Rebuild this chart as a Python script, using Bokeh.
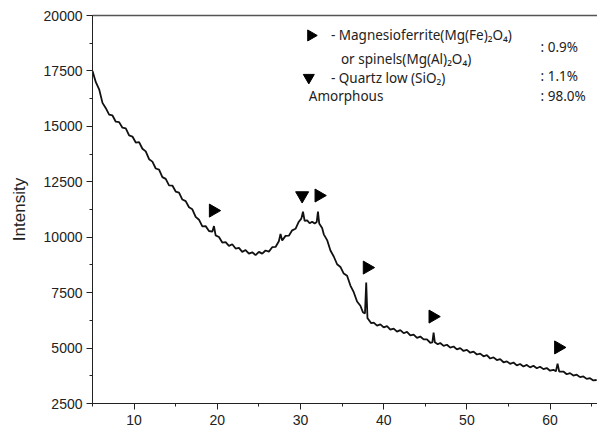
import math
from bokeh.plotting import figure
from bokeh.models import LinearAxis, SingleIntervalTicker, FixedTicker, Range1d
from bokeh.embed import file_html
from bokeh.resources import INLINE
from bokeh.core.properties import value

# ---- data ----
two_theta = [5.0, 5.4, 5.8, 6.2, 6.6, 7.0, 7.4, 7.8, 8.2, 8.6, 9.0, 9.4, 9.8, 10.2, 10.6,
             11.0, 11.4, 11.8, 12.2, 12.6, 13.0, 13.4, 13.8, 14.2, 14.6, 15.0, 15.4, 15.8,
             16.2, 16.6, 17.0, 17.4, 17.8, 18.2, 18.6, 19.0, 19.4, 19.6, 19.8, 20.2, 20.6,
             21.0, 21.4, 21.8, 22.2, 22.6, 23.0, 23.4, 23.8, 24.2, 24.6, 25.0, 25.4, 25.8,
             26.2, 26.6, 27.0, 27.4, 27.6, 27.8, 28.2, 28.6, 29.0, 29.4, 29.8, 30.1, 30.3,
             30.5, 30.8, 31.1, 31.4, 31.7, 31.95, 32.1, 32.25, 32.6, 32.8, 33.2, 33.6, 34.0,
             34.4, 34.8, 35.2, 35.6, 36.0, 36.4, 36.8, 37.2, 37.5, 37.75, 37.9, 38.05, 38.2,
             38.5, 38.8, 39.2, 39.6, 40.0, 40.4, 40.8, 41.2, 41.6, 42.0, 42.4, 42.8, 43.2,
             43.6, 44.0, 44.4, 44.8, 45.2, 45.6, 45.85, 46.0, 46.15, 46.5, 46.8, 47.2, 47.6,
             48.0, 48.4, 48.8, 49.2, 49.6, 50.0, 50.4, 50.8, 51.2, 51.6, 52.0, 52.4, 52.8,
             53.2, 53.6, 54.0, 54.4, 54.8, 55.2, 55.6, 56.0, 56.4, 56.8, 57.2, 57.6, 58.0,
             58.4, 58.8, 59.2, 59.6, 60.0, 60.4, 60.7, 60.9, 61.1, 61.6, 62.0, 62.4, 62.8,
             63.2, 63.6, 64.0, 64.4, 64.8, 65.2, 65.6]
intensity = [17500, 16990, 16670, 16060, 15820, 15530, 15490, 15210, 15190, 14940, 14910,
             14590, 14540, 14270, 14290, 13990, 13870, 13520, 13410, 13100, 13050, 12710,
             12630, 12340, 12330, 12060, 12010, 11700, 11630, 11350, 11260, 10920, 10790,
             10490, 10500, 10280, 10250, 10500, 10080, 10010, 9760, 9780, 9610, 9680, 9490,
             9520, 9340, 9420, 9260, 9320, 9190, 9340, 9260, 9400, 9350, 9550, 9560, 9820,
             10150, 9850, 10060, 10070, 10310, 10380, 10700, 10840, 11150, 10740, 10760,
             10630, 10700, 10620, 10690, 11150, 10620, 10420, 10130, 9870, 9400, 9130, 8780,
             8660, 8360, 8260, 7820, 7520, 7100, 6910, 6620, 6560, 7960, 6350, 6280, 6120,
             6150, 6010, 6070, 5930, 5990, 5830, 5880, 5740, 5810, 5670, 5730, 5570, 5610,
             5460, 5520, 5390, 5390, 5240, 5260, 5700, 5260, 5170, 5230, 5100, 5150, 5020,
             5070, 4940, 5000, 4870, 4920, 4790, 4840, 4710, 4750, 4630, 4680, 4530, 4580,
             4460, 4500, 4360, 4400, 4290, 4350, 4220, 4280, 4170, 4240, 4130, 4200, 4090,
             4160, 4050, 4100, 3980, 4020, 3950, 4300, 3940, 3940, 3820, 3870, 3760, 3800,
             3690, 3720, 3610, 3640, 3540, 3560]

mag_x = [19.5, 32.2, 38.0, 45.9, 61.0]          # Magnesioferrite / spinel markers
mag_y = [11200, 11880, 8630, 6420, 5030]
qtz_x = [30.2]                                  # Quartz low marker
qtz_y = [11880]

y_ticks_interval = 2500
x_ticks_interval = 10

legend_left = ["- Magnesioferrite(Mg(Fe)\u2082O\u2084)", "or spinels(Mg(Al)\u2082O\u2084)",
               "- Quartz low (SiO\u2082)", "Amorphous"]
legend_left_x = [33.66, 34.86, 33.66, 31.0]
legend_left_y = [19100, 18060, 17200, 16390]
legend_right = [": 0.9%", ": 1.1%", ": 98.0%"]
legend_right_x = [58.86, 58.86, 58.86]
legend_right_y = [18560, 17290, 16390]

p = figure(width=597, height=430, output_backend="svg", toolbar_location=None,
           x_range=Range1d(5, 65.7), y_range=Range1d(2500, 20000),
           min_border_left=92, min_border_right=0, min_border_top=15, min_border_bottom=27)
p.background_fill_color = "white"
p.border_fill_color = "white"
p.outline_line_color = None
p.xgrid.visible = False
p.ygrid.visible = False

p.line(two_theta, intensity, line_color="#111111", line_width=1.8)

p.scatter(mag_x, mag_y, marker="triangle", angle=-math.pi / 2, size=13,
          fill_color="black", line_color="black")
p.scatter(qtz_x, qtz_y, marker="inverted_triangle", size=13,
          fill_color="black", line_color="black")

# legend markers
p.scatter([31.25], [19100], marker="triangle", angle=-math.pi / 2, size=11,
          fill_color="black", line_color="black")
p.scatter([31.0], [17200], marker="inverted_triangle", size=11,
          fill_color="black", line_color="black")

p.text(legend_left_x, legend_left_y, text=legend_left, text_font=value("Noto Sans"),
       text_font_size="13.5px", text_baseline="middle", text_align="left", text_color="#222222")
p.text(legend_right_x, legend_right_y, text=legend_right, text_font=value("Noto Sans"),
       text_font_size="13.5px", text_baseline="middle", text_align="left", text_color="#222222")

for ax in (p.xaxis, p.yaxis):
    ax.axis_line_color = "#222222"
    ax.major_tick_line_color = "#222222"
    ax.minor_tick_line_color = "#222222"
    ax.major_tick_out = 6
    ax.major_tick_in = 0
    ax.minor_tick_out = 3
    ax.minor_tick_in = 0
    ax.major_label_text_font = "Liberation Sans"
    ax.major_label_text_font_size = "14px"
    ax.major_label_text_color = "#222222"

p.xaxis.ticker = SingleIntervalTicker(interval=x_ticks_interval, num_minor_ticks=2)
p.yaxis.ticker = SingleIntervalTicker(interval=y_ticks_interval, num_minor_ticks=2)
p.yaxis.major_label_standoff = 4
p.yaxis.axis_label = "Intensity"
p.yaxis.axis_label_text_font = "Liberation Sans"
p.yaxis.axis_label_text_font_style = "normal"
p.yaxis.axis_label_text_font_size = "17px"
p.yaxis.axis_label_text_color = "#222222"
p.yaxis.axis_label_standoff = 12

top = LinearAxis(axis_line_color="#555555", axis_line_width=1.5,
                 ticker=FixedTicker(ticks=[]),
                 major_tick_line_color=None, minor_tick_line_color=None)
p.add_layout(top, "above")

open("out.html", "w").write(file_html(p, INLINE))
